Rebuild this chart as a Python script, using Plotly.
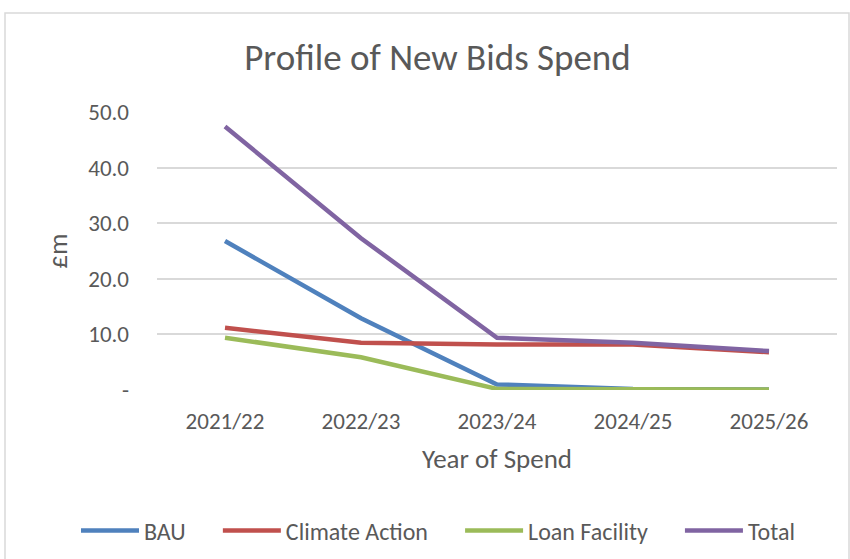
import plotly.graph_objects as go

years = ["2021/22", "2022/23", "2023/24", "2024/25", "2025/26"]
bau = [26.8, 12.9, 1.0, 0.2, 0.1]
climate = [11.2, 8.5, 8.2, 8.2, 6.8]
loan = [9.4, 5.9, 0.2, 0.1, 0.1]
total = [47.4, 27.3, 9.4, 8.5, 7.0]

names = ["BAU", "Climate Action", "Loan Facility", "Total"]
colors = ["#4F81BD", "#C0504D", "#9BBB59", "#8064A2"]
values = [bau, climate, loan, total]

font_family = "Carlito, Calibri, 'Liberation Sans Narrow', 'Noto Sans', sans-serif"
grey = "#595959"
pad = "\u00a0" * 5

fig = go.Figure()
for i, (name, vals, col) in enumerate(zip(names, values, colors)):
    label = name + (pad if i < len(names) - 1 else "")
    fig.add_trace(go.Scatter(x=years, y=vals, name=label, mode="lines",
                             line=dict(color=col, width=4.5)))

fig.update_layout(
    width=850, height=559,
    margin=dict(l=157, r=13, t=112, b=169, autoexpand=False),
    paper_bgcolor="white", plot_bgcolor="white",
    font=dict(family=font_family, color=grey, size=23),
    title=dict(text="Profile of New Bids Spend", x=437.5 / 850, xanchor="center",
               y=1 - 57 / 559, yanchor="middle",
               font=dict(size=37, color=grey, family=font_family)),
    legend=dict(orientation="h", xref="paper", yref="paper",
                x=(76 - 157) / 680, xanchor="left",
                y=(390 - 531) / 278, yanchor="middle",
                font=dict(size=24, color=grey), itemwidth=58),
    showlegend=True,
)
fig.update_xaxes(
    type="category", range=[-0.5, 4.5], automargin=False,
    showgrid=False, showline=False, ticks="",
    tickfont=dict(size=23, color=grey), ticklabelstandoff=15,
    title=dict(text="Year of Spend", font=dict(size=27, color=grey), standoff=15),
)
fig.update_yaxes(
    range=[0, 50], tickvals=[0, 10, 20, 30, 40, 50], automargin=False,
    ticktext=["-", "10.0", "20.0", "30.0", "40.0", "50.0"],
    showgrid=True, gridcolor="#D9D9D9", gridwidth=1.5,
    zeroline=False, showline=False, ticks="",
    tickfont=dict(size=23, color=grey), ticklabelstandoff=27,
    title=dict(text="£m", font=dict(size=27, color=grey), standoff=12),
)
fig.add_shape(type="rect", xref="paper", yref="paper",
              x0=(5 - 157) / 680, x1=(849 - 157) / 680,
              y0=(390 - 570) / 278, y1=(390 - 13) / 278,
              line=dict(color="#D9D9D9", width=1.5), fillcolor="rgba(0,0,0,0)",
              layer="below")

fig.write_html("out.html", config={"displayModeBar": False},
               post_script="document.body.style.margin='0';")
